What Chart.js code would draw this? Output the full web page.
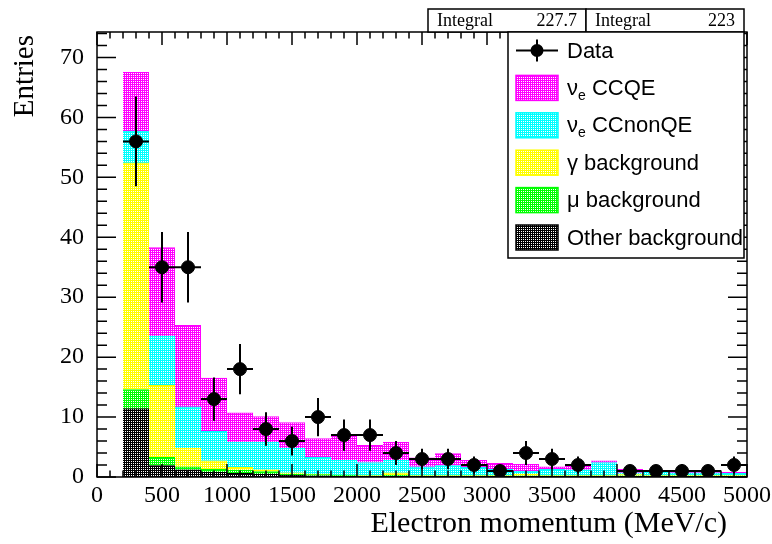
<!DOCTYPE html>
<html>
<head>
<meta charset="utf-8">
<title>Electron momentum</title>
<script src="https://cdn.jsdelivr.net/npm/chart.js"></script>
<style>
  body { margin: 0; background: #fff; }
</style>
</head>
<body>
<canvas id="momentumChart" width="772" height="544"></canvas>
<script>
// bins of 200 MeV/c from 200 to 5000
const binCenters = [300, 500, 700, 900, 1100, 1300, 1500, 1700, 1900, 2100, 2300, 2500,
                    2700, 2900, 3100, 3300, 3500, 3700, 3900, 4100, 4300, 4500, 4700, 4900];
const binHalfWidth = 100;

const otherBkg = [11.4, 1.9, 1.2, 0.8, 0.6, 0.5, 0.3, 0.2, 0.1, 0.1, 0.1, 0.1,
                  0.1, 0.1, 0.1, 0.1, 0.1, 0.1, 0.1, 0.1, 0.1, 0.1, 0.1, 0.1];
const muBkg = [3.2, 1.4, 0.5, 0.5, 0.5, 0.4, 0.2, 0.2, 0.2, 0.1, 0.2, 0.1,
               0.1, 0.1, 0.1, 0.1, 0.1, 0.1, 0.1, 0.1, 0.1, 0.1, 0.1, 0.1];
const gammaBkg = [37.8, 12.0, 3.1, 1.4, 0.5, 0.3, 0.2, 0.1, 0.0, 0.1, 0.4, 0.1,
                  0.1, 0.1, 0.1, 0.3, 0.1, 0.1, 0.1, 0.2, 0.1, 0.1, 0.1, 0.1];
const ccNonQE = [5.3, 8.2, 6.9, 4.9, 4.2, 4.6, 4.1, 2.8, 2.5, 2.1, 2.1, 1.4,
                 1.6, 1.3, 1.0, 0.5, 1.0, 0.9, 2.1, 0.3, 0.6, 0.4, 0.4, 0.3];
const ccqe = [9.8, 14.8, 13.6, 8.9, 4.9, 4.3, 4.3, 3.1, 4.1, 2.9, 3.0, 1.5,
              2.0, 1.2, 1.0, 1.1, 0.4, 0.8, 0.3, 0.6, 0.2, 0.3, 0.4, 0.2];

const dataCounts = [56, 35, 35, 13, 18, 8, 6, 10, 7, 7, 4, 3,
                    3, 2, 1, 4, 3, 2, 0, 1, 1, 1, 1, 2];
const dataErrors = [7.5, 5.9, 5.9, 3.6, 4.2, 2.8, 2.4, 3.2, 2.6, 2.6, 2.0, 1.7,
                    1.7, 1.4, 1.0, 2.0, 1.7, 1.4, 0, 1.0, 1.0, 1.0, 1.0, 1.4];

const xTickValues = [0, 500, 1000, 1500, 2000, 2500, 3000, 3500, 4000, 4500, 5000];
const yTickValues = [0, 10, 20, 30, 40, 50, 60, 70];
const statIntegrals = ['227.7', '223'];

// ROOT style 3001 dotted fill
function dotted(color, dot) {
    const c = document.createElement('canvas');
    c.width = 2; c.height = 2;
    const g = c.getContext('2d');
    g.fillStyle = color;
    g.fillRect(0, 0, 2, 2);
    g.fillStyle = dot;
    g.fillRect(1, 1, 1, 1);
    return g.createPattern(c, 'repeat');
}

const SERIF = '"Liberation Serif", "DejaVu Serif", serif';
const SANS = '"Liberation Sans", Arial, sans-serif';

function mcSet(label, values, color, dot) {
    return {
        type: 'bar',
        label: label,
        stack: 'mc',
        order: 1,
        data: values.map((v, i) => ({ x: binCenters[i], y: v })),
        backgroundColor: dotted(color, dot),
        borderColor: color,
        borderWidth: { top: 1, left: 0, right: 0, bottom: 0 },
        borderSkipped: false,
        barPercentage: 1,
        categoryPercentage: 1
    };
}

const errorBars = {
    id: 'errorBars',
    afterDatasetsDraw(chart) {
        const { ctx, scales: { x, y } } = chart;
        ctx.save();
        ctx.strokeStyle = '#000';
        ctx.lineWidth = 2;
        ctx.beginPath();
        dataCounts.forEach((n, i) => {
            if (!n) return;
            const cx = x.getPixelForValue(binCenters[i]);
            const cy = y.getPixelForValue(n);
            ctx.moveTo(x.getPixelForValue(binCenters[i] - binHalfWidth), cy);
            ctx.lineTo(x.getPixelForValue(binCenters[i] + binHalfWidth), cy);
            ctx.moveTo(cx, y.getPixelForValue(n - dataErrors[i]));
            ctx.lineTo(cx, y.getPixelForValue(n + dataErrors[i]));
        });
        ctx.stroke();
        ctx.restore();
    }
};

const frameTicks = {
    id: 'frameTicks',
    afterDatasetsDraw(chart) {
        const { ctx, chartArea: a, scales: { x, y } } = chart;
        ctx.save();
        ctx.strokeStyle = '#000';
        ctx.lineWidth = 1.5;
        ctx.beginPath();
        for (let v = 0; v <= 5000; v += 100) {
            const px = x.getPixelForValue(v);
            const len = v % 500 === 0 ? 13 : 6.5;
            ctx.moveTo(px, a.bottom); ctx.lineTo(px, a.bottom - len);
            ctx.moveTo(px, a.top); ctx.lineTo(px, a.top + len);
        }
        for (let v = 0; v <= 74; v += 2) {
            const py = y.getPixelForValue(v);
            const len = v % 10 === 0 ? 19 : 10;
            ctx.moveTo(a.left, py); ctx.lineTo(a.left + len, py);
            ctx.moveTo(a.right, py); ctx.lineTo(a.right - len, py);
        }
        ctx.stroke();
        ctx.strokeRect(a.left, a.top, a.width, a.height);

        // axis titles
        ctx.fillStyle = '#000';
        ctx.font = '30px ' + SERIF;
        ctx.textAlign = 'right';
        ctx.textBaseline = 'alphabetic';
        ctx.fillText('Electron momentum (MeV/c)', a.right - 20, 532);
        ctx.translate(33, a.top + 3);
        ctx.rotate(-Math.PI / 2);
        ctx.font = '29px ' + SERIF;
        ctx.fillText('Entries', 0, 0);
        ctx.restore();
    }
};

function drawLabel(ctx, text, x, y) {
    // "_e" is drawn as a subscript
    const parts = text.split('_e');
    ctx.font = '22px ' + SANS;
    ctx.fillText(parts[0], x, y);
    if (parts.length < 2) return;
    x += ctx.measureText(parts[0]).width;
    ctx.font = '14px ' + SANS;
    ctx.fillText('e', x, y + 7);
    x += ctx.measureText('e').width;
    ctx.font = '22px ' + SANS;
    ctx.fillText(parts[1], x, y);
}

const rootLegend = {
    id: 'rootLegend',
    afterDraw(chart) {
        const ctx = chart.ctx;
        ctx.save();
        ctx.lineWidth = 1.5;
        ctx.strokeStyle = '#000';
        ctx.fillStyle = '#000';

        // stats boxes
        const boxes = [[428, 586], [586, 744]];
        boxes.forEach((b, i) => {
            ctx.fillStyle = '#fff';
            ctx.fillRect(b[0], 9, b[1] - b[0], 23);
            ctx.strokeRect(b[0], 9, b[1] - b[0], 23);
            ctx.fillStyle = '#000';
            ctx.font = '18px ' + SERIF;
            ctx.textBaseline = 'alphabetic';
            ctx.textAlign = 'left';
            ctx.fillText('Integral', b[0] + 9, 26);
            ctx.textAlign = 'right';
            ctx.fillText(statIntegrals[i], b[1] - 9, 26);
        });

        // legend box
        const lx = 508, ly = 32, lw = 236, lh = 226;
        ctx.fillStyle = '#fff';
        ctx.fillRect(lx, ly, lw, lh);
        ctx.strokeRect(lx, ly, lw, lh);

        const rowH = 37.4;
        const sx = 516, sw = 42, sh = 25;
        const tx = 567;
        ctx.textAlign = 'left';
        ctx.textBaseline = 'middle';

        // data entry
        const dataSet = chart.data.datasets[chart.data.datasets.length - 1];
        let cy = 50.5;
        ctx.lineWidth = 2;
        ctx.beginPath();
        ctx.moveTo(sx, cy); ctx.lineTo(sx + sw, cy);
        ctx.moveTo(sx + sw / 2, cy - 11); ctx.lineTo(sx + sw / 2, cy + 11);
        ctx.stroke();
        ctx.beginPath();
        ctx.arc(sx + sw / 2, cy, 6.5, 0, Math.PI * 2);
        ctx.fillStyle = '#000';
        ctx.fill();
        drawLabel(ctx, dataSet.label, tx, cy + 1);

        // MC entries, top of stack first
        const mc = chart.data.datasets.slice(0, -1).reverse();
        ctx.lineWidth = 1.5;
        mc.forEach((ds, i) => {
            const y0 = 50.5 + rowH * (i + 1);
            ctx.fillStyle = ds.backgroundColor;
            ctx.fillRect(sx, y0 - sh / 2, sw, sh);
            ctx.strokeStyle = ds.borderColor;
            ctx.strokeRect(sx, y0 - sh / 2, sw, sh);
            ctx.fillStyle = '#000';
            drawLabel(ctx, ds.label, tx, y0 + 1);
        });
        ctx.restore();
    }
};

const ctx = document.getElementById('momentumChart').getContext('2d');
new Chart(ctx, {
    data: {
        datasets: [
            mcSet('Other background', otherBkg, '#000000', '#ffffff'),
            mcSet('\u03bc background', muBkg, '#00ff00', '#ffffff'),
            mcSet('\u03b3 background', gammaBkg, '#ffff00', '#ffffff'),
            mcSet('\u03bd_e CCnonQE', ccNonQE, '#00ffff', '#ffffff'),
            mcSet('\u03bd_e CCQE', ccqe, '#ff00ff', '#ffffff'),
            {
                type: 'scatter',
                label: 'Data',
                stack: 'data',
                order: 0,
                data: dataCounts.map((n, i) => ({ x: binCenters[i], y: n ? n : null })),
                backgroundColor: '#000',
                borderColor: '#000',
                pointRadius: 6.5,
                pointHoverRadius: 6.5
            }
        ]
    },
    options: {
        responsive: false,
        animation: false,
        layout: { padding: { top: 32, right: 25, left: 0, bottom: 0 } },
        plugins: {
            legend: { display: false },
            tooltip: { enabled: false }
        },
        scales: {
            x: {
                type: 'linear',
                stacked: true,
                offset: false,
                min: 0,
                max: 5000,
                grid: { display: false, offset: false },
                border: { display: false },
                afterBuildTicks: axis => { axis.ticks = xTickValues.map(v => ({ value: v })); },
                afterFit: axis => { axis.height = 67; },
                ticks: {
                    autoSkip: false,
                    maxRotation: 0,
                    padding: -4,
                    color: '#000',
                    font: { family: SERIF, size: 24 },
                    callback: v => String(v)
                }
            },
            y: {
                stacked: true,
                min: 0,
                max: 74.25,
                grid: { display: false },
                border: { display: false },
                afterBuildTicks: axis => { axis.ticks = yTickValues.map(v => ({ value: v })); },
                afterFit: axis => { axis.width = 97; },
                ticks: {
                    padding: 5,
                    color: '#000',
                    font: { family: SERIF, size: 24 },
                    callback: v => String(v)
                }
            }
        }
    },
    plugins: [errorBars, frameTicks, rootLegend]
});
</script>
</body>
</html>
